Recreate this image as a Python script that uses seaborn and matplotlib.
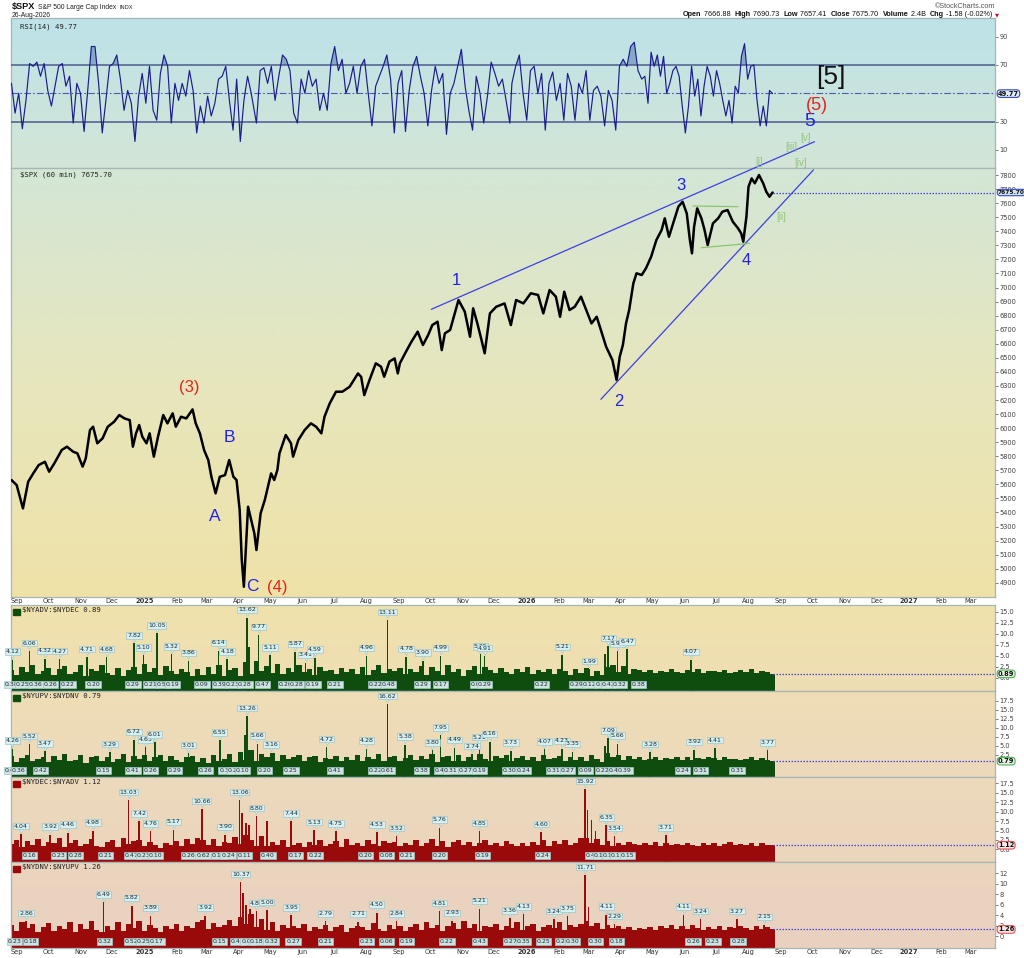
import numpy as np
import pandas as pd
import matplotlib
matplotlib.use("Agg")
import matplotlib.pyplot as plt
import matplotlib.dates as mdates
import matplotlib.colors as mcolors
import matplotlib.transforms as mtransforms
import seaborn as sns

sns.set_theme(style="white")
plt.rcParams['font.family'] = ['DejaVu Sans']

# ======================= DATA =======================
START, END = '2024-08-29', '2026-08-26'

PX_DATES = ['2024-08-29','2024-09-03','2024-09-09','2024-09-14','2024-09-19','2024-09-24','2024-09-30',
 '2024-10-04','2024-10-09','2024-10-16','2024-10-21','2024-10-27','2024-10-31','2024-11-05','2024-11-08',
 '2024-11-12','2024-11-15','2024-11-19','2024-11-24','2024-11-29','2024-12-05','2024-12-10','2024-12-15',
 '2024-12-20','2024-12-23','2024-12-26','2024-12-29','2025-01-01','2025-01-05','2025-01-08','2025-01-12',
 '2025-01-16','2025-01-21','2025-01-25','2025-01-30','2025-02-02','2025-02-07','2025-02-12','2025-02-18',
 '2025-02-21','2025-02-25','2025-03-01','2025-03-05','2025-03-08','2025-03-12','2025-03-16','2025-03-21',
 '2025-03-25','2025-03-29','2025-04-01','2025-04-04','2025-04-06','2025-04-08','2025-04-10','2025-04-12',
 '2025-04-15','2025-04-18','2025-04-20','2025-04-24','2025-04-28','2025-05-01','2025-05-04','2025-05-07',
 '2025-05-10','2025-05-12','2025-05-18','2025-05-23','2025-05-25','2025-05-30','2025-06-05','2025-06-11',
 '2025-06-16','2025-06-21','2025-06-24','2025-06-29','2025-07-05','2025-07-11','2025-07-18','2025-07-26',
 '2025-07-29','2025-08-01','2025-08-06','2025-08-12','2025-08-17','2025-08-20','2025-08-25','2025-08-30',
 '2025-09-02','2025-09-04','2025-09-09','2025-09-15','2025-09-21','2025-09-26','2025-10-01','2025-10-05',
 '2025-10-10','2025-10-14','2025-10-17','2025-10-22','2025-10-26','2025-10-30','2025-11-05','2025-11-10',
 '2025-11-13','2025-11-17','2025-11-21','2025-11-24','2025-11-29','2025-12-05','2025-12-13','2025-12-19',
 '2025-12-24','2025-12-31','2026-01-07','2026-01-14','2026-01-19','2026-01-25','2026-01-31','2026-02-04',
 '2026-02-08','2026-02-13','2026-02-18','2026-02-24','2026-03-01','2026-03-06','2026-03-11','2026-03-15',
 '2026-03-20','2026-03-23','2026-03-26','2026-03-30','2026-04-02','2026-04-05','2026-04-08','2026-04-11',
 '2026-04-15','2026-04-18','2026-04-23','2026-04-27','2026-05-02','2026-05-07','2026-05-12','2026-05-15',
 '2026-05-19','2026-05-23','2026-05-28','2026-06-01','2026-06-05','2026-06-08','2026-06-10','2026-06-12',
 '2026-06-15','2026-06-19','2026-06-22','2026-06-25','2026-06-30','2026-07-05','2026-07-09','2026-07-14',
 '2026-07-19','2026-07-24','2026-07-27','2026-07-29','2026-08-01','2026-08-03','2026-08-06','2026-08-09',
 '2026-08-13','2026-08-17','2026-08-20','2026-08-23','2026-08-26']
PX_VALS = [5631,5595,5429,5619,5680,5737,5761,
 5690,5750,5844,5868,5832,5821,5726,5785,
 5986,6010,5892,5927,6010,6045,6093,6069,
 6057,5868,5963,6022,5939,5892,5963,5797,
 5939,6093,6034,6105,6010,6081,6069,6133,
 6034,5963,5844,5773,5654,5536,5654,5666,
 5773,5654,5631,5417,5062,4872,5156,5441,
 5346,5252,5133,5394,5489,5583,5678,5631,
 5702,5821,5951,5892,5797,5915,5986,6034,
 6010,5963,6081,6176,6259,6259,6294,6389,
 6365,6235,6342,6461,6437,6365,6473,6496,
 6389,6461,6532,6614,6686,6591,6662,6733,
 6757,6555,6674,6698,6804,6911,6828,6650,
 6852,6745,6626,6532,6816,6863,6887,6733,
 6911,6887,6959,6947,6816,6982,6935,6792,
 6970,6840,6863,6935,6840,6745,6792,6698,
 6579,6532,6484,6342,6508,6591,6745,6840,
 7030,7101,7089,7136,7219,7338,7409,7492,
 7361,7456,7575,7610,7527,7338,7243,7432,
 7563,7492,7409,7302,7456,7492,7539,7551,
 7468,7421,7385,7326,7504,7717,7776,7741,
 7800,7741,7681,7646,7675.70]
PX_CLOSE = 7675.70

RSI_SPANS = [('2024-08-29', '2025-04-15'), ('2025-04-20', '2025-12-18'),
             ('2025-12-20', '2026-04-23'), ('2026-04-26', '2026-08-26')]
RSI_A = [57,36,50,25,45,71,69,72,62,71, 52,41,55,69,71,55,62,29,57,50,
         23,52,83,83,57,22,45,69,71,77, 60,38,52,43,16,48,64,43,69,38,
         31,64,77,69,29,57,45,57,48,66, 52,22,41,29,48,34,43,60,62,69,
         45,24,60,16,45,62,50]
RSI_B = [29,66,68,57,69,45,62,77,74,66, 36,29,60,50,66,55,60,38,50,38,
         71,83,66,74,50,57,69,50,69,74, 50,27,55,62,69,77,60,22,57,66,
         23,52,69,76,62,50,27,52,69,57, 64,21,50,57,69,81,55,38,24,62,
         50,29,48,72,64,55,60,45,29]
RSI_C = [57,69,77,50,31,66,69,50,64,24, 57,65,45,57,31,64,55,31,57,50,
         66,31,52,55,48,27,52,45,24,69, 74,69,83,86,66,60]
RSI_D = [62,43,79,69,77,62,76,50,57,66, 69,62,41,22,41,69,48,60,34,55,
         69,62,48,66,57,45,34,45,29,55, 50,76,85,60,69,70,45,27,41,27,
         52,49.77]
RSI_LAST = 49.77

# breadth panels: base values every ~5 days, labelled peaks, labelled lows, extra spikes
B1_BASE = [1.8,0.6,2.4,1.2,2.9,0.9, 1.5,2.2,0.7,1.9,2.6,0.8, 1.3,2.8,0.5,2.0,1.6,3.0,
           1.1,0.6,2.3,0.4,1.8,2.5, 0.9,3.1,1.4,2.2,0.7,2.7, 1.6,0.8,2.1,1.2,0.5,1.9,
           0.6,2.4,0.9,2.8,0.5,1.7, 2.2,0.4,3.5,0.8,3.9,1.5, 2.6,1.1,3.2,0.9,2.3,1.4,
           2.9,1.2,2.0,0.7,2.5,1.6, 1.8,0.8,2.2,1.3,1.9,0.9, 2.4,0.7,1.7,2.8,1.1,2.0,
           1.5,2.3,0.8,1.9,1.2,2.6, 0.7,2.4,1.6,0.6,2.9,1.3, 2.1,0.5,1.8,2.7,0.9,2.4,
           1.7,1.0,2.2,1.4,0.8,2.0, 1.3,2.5,0.9,1.8,1.2,2.1, 0.8,2.0,1.5,0.6,1.9,1.1,
           2.2,0.5,1.6,0.7,2.4,3.0, 1.4,2.6,0.9,2.1,1.7,1.3, 1.8,1.0,1.6,1.2,2.0,1.4,
           1.1,1.7,1.3,1.9,1.0,1.5, 1.6,1.2,1.8,1.0,1.4,1.7, 1.3,1.9,1.1,1.6,1.2,0.89]
B1_PEAK_D = ['2024-08-30','2024-09-15','2024-09-30','2024-10-14','2024-11-09','2024-11-28','2024-12-24',
             '2025-01-02','2025-01-15','2025-01-29','2025-02-14','2025-03-15','2025-03-23','2025-04-11',
             '2025-04-22','2025-05-03','2025-05-27','2025-06-06','2025-06-15','2025-08-03','2025-08-23',
             '2025-09-10','2025-09-26','2025-10-13','2025-11-20','2025-11-24','2026-02-06','2026-03-04',
             '2026-03-22','2026-03-31','2026-04-09','2026-06-09']
B1_PEAK_V = [4.12,6.06,4.32,4.27,4.71,4.68,7.82,5.10,10.05,5.32,3.86,6.14,4.18,13.62,9.77,5.11,5.87,
             3.41,4.59,4.96,13.11,4.78,3.90,4.99,5.35,4.91,5.21,1.99,7.17,5.97,6.47,4.07]
B1_LOW_D = ['2024-08-29','2024-09-09','2024-09-21','2024-10-05','2024-10-22','2024-11-15','2024-12-23',
            '2025-01-09','2025-01-21','2025-01-30','2025-02-27','2025-03-16','2025-03-28','2025-04-09',
            '2025-04-26','2025-05-18','2025-05-28','2025-06-13','2025-07-04','2025-08-12','2025-08-24',
            '2025-09-25','2025-10-13','2025-11-17','2025-11-24','2026-01-17','2026-02-20','2026-03-04',
            '2026-03-16','2026-03-22','2026-04-02','2026-04-20']
B1_LOW_V = [0.38,0.25,0.36,0.26,0.22,0.20,0.29,0.21,0.51,0.19,0.09,0.39,0.23,0.28,0.47,0.20,0.28,
            0.19,0.21,0.22,0.48,0.29,0.17,0.06,0.29,0.22,0.29,0.12,0.06,0.42,0.32,0.38]
B1_EXTRA_D = ['2025-04-13', '2026-03-19']
B1_EXTRA_V = [7.0, 5.5]
B1_LAST = 0.89

B2_BASE = [2.1,0.5,1.7,2.6,0.8,1.4, 1.9,0.6,2.3,1.1,2.8,0.7, 1.2,2.5,0.4,1.8,2.2,0.9,
           2.0,0.5,1.5,2.7,0.6,2.2, 1.3,2.6,0.7,1.9,2.4,0.8, 2.1,1.0,0.6,1.8,2.3,0.5,
           1.7,0.4,2.5,0.9,1.4,2.9, 0.5,3.4,1.2,4.0,0.7,2.8, 1.9,3.1,0.8,2.4,1.5,2.0,
           2.6,0.9,1.8,2.3,0.6,1.7, 1.4,2.2,0.8,1.9,1.2,2.5, 0.7,2.0,1.5,2.9,0.9,1.8,
           2.3,0.8,1.6,2.4,1.0,2.1, 1.3,2.7,0.6,1.9,2.2,0.9, 2.5,0.7,2.0,1.2,2.8,1.5,
           0.8,2.1,1.6,2.4,0.9,1.7, 2.2,1.1,1.9,0.7,2.5,1.4, 1.6,2.3,0.8,1.8,1.2,2.0,
           0.7,2.5,1.3,0.6,3.1,1.9, 2.4,1.0,2.1,1.5,1.8,1.2, 1.5,2.0,1.1,1.7,1.3,1.9,
           1.2,1.8,1.0,1.6,1.4,2.0, 1.7,1.1,1.9,1.3,1.5,1.0, 1.4,2.0,1.2,1.7,1.1,0.79]
B2_PEAK_D = ['2024-08-30','2024-09-15','2024-09-30','2024-12-01','2024-12-24','2025-01-04','2025-01-13',
             '2025-02-14','2025-03-16','2025-04-11','2025-04-21','2025-05-04','2025-06-26','2025-08-03',
             '2025-08-23','2025-09-09','2025-10-05','2025-10-13','2025-10-26','2025-11-12','2025-11-19',
             '2025-11-29','2025-12-19','2026-01-20','2026-02-06','2026-02-16','2026-03-22','2026-03-31',
             '2026-05-01','2026-06-12','2026-07-02','2026-08-21']
B2_PEAK_V = [4.26,5.52,3.47,3.29,6.72,4.63,6.01,3.01,6.55,13.26,5.66,3.16,4.72,4.28,16.62,5.38,3.80,
             7.95,4.49,2.74,5.21,6.16,3.73,4.07,4.23,3.35,7.09,5.66,3.28,3.92,4.41,3.77]
B2_LOW_D = ['2024-08-29','2024-09-05','2024-09-26','2024-11-25','2024-12-23','2025-01-09','2025-02-01',
            '2025-03-02','2025-03-22','2025-03-30','2025-04-07','2025-04-28','2025-05-23','2025-07-04',
            '2025-08-12','2025-08-23','2025-09-25','2025-10-14','2025-10-22','2025-11-06','2025-11-19',
            '2025-12-18','2025-12-31','2026-01-29','2026-02-11','2026-02-28','2026-03-17','2026-03-29',
            '2026-04-07','2026-06-01','2026-06-18','2026-07-23']
B2_LOW_V = [0.43,0.36,0.42,0.15,0.41,0.26,0.29,0.26,0.33,0.20,0.10,0.20,0.25,0.41,0.22,0.61,0.38,
            0.49,0.31,0.27,0.19,0.30,0.24,0.31,0.27,0.09,0.22,0.44,0.39,0.24,0.31,0.31]
B2_EXTRA_D = ['2025-04-09', '2026-03-19']
B2_EXTRA_V = [8.0, 5.0]
B2_LAST = 0.79

B3_BASE = [1.4,2.6,0.7,2.2,1.1,2.8, 0.9,2.0,1.6,2.9,0.6,1.8, 2.4,0.8,1.5,2.7,1.0,0.6,
           1.9,2.5,0.7,2.9,1.4,2.2, 2.6,0.9,2.0,1.2,0.5,1.7, 1.1,2.3,0.8,2.7,1.5,2.9,
           2.5,1.2,2.8,0.9,2.1,1.6, 3.2,1.4,3.8,2.6,1.0,3.5, 0.8,1.9,1.1,2.4,0.7,1.3,
           1.8,0.6,2.1,1.2,2.6,0.9, 1.5,2.3,0.7,2.8,1.1,1.7, 1.0,2.5,1.4,0.8,2.2,1.6,
           2.1,0.9,1.7,1.2,2.4,0.8, 1.6,2.8,1.0,2.2,0.7,1.9, 2.6,1.2,2.0,0.8,1.7,2.5,
           1.1,1.8,0.9,2.3,1.4,1.0, 1.7,0.8,2.1,1.3,2.4,1.0, 2.2,1.4,2.6,1.1,1.8,2.9,
           3.0,1.6,2.7,1.2,2.3,0.9, 1.8,1.2,2.0,1.5,1.1,1.7, 1.3,1.9,1.0,1.6,1.2,1.5,
           1.1,1.7,1.3,1.0,1.8,1.2, 1.6,1.0,1.4,1.9,1.1,1.5, 1.2,1.7,1.0,1.8,1.3,1.12]
B3_PEAK_D = ['2024-09-07','2024-10-05','2024-10-22','2024-11-15','2024-12-19','2024-12-29','2025-01-09',
             '2025-01-31','2025-02-27','2025-03-21','2025-04-04','2025-04-20','2025-05-23','2025-06-14',
             '2025-07-05','2025-08-13','2025-09-01','2025-10-12','2025-11-19','2026-01-17','2026-02-28',
             '2026-03-20','2026-03-28','2026-05-16']
B3_PEAK_V = [4.04,3.92,4.46,4.98,13.03,7.42,4.76,5.17,10.66,3.90,13.06,8.80,7.44,5.13,4.75,4.53,3.52,
             5.76,4.85,4.60,15.92,6.35,3.54,3.71]
B3_LOW_D = ['2024-09-15','2024-10-13','2024-10-29','2024-11-27','2024-12-22','2025-01-02','2025-01-14',
            '2025-02-14','2025-02-28','2025-03-15','2025-03-24','2025-04-09','2025-05-01','2025-05-27',
            '2025-06-15','2025-08-02','2025-08-22','2025-09-10','2025-10-12','2025-11-22','2026-01-18',
            '2026-03-07','2026-03-15','2026-03-23','2026-03-31','2026-04-09']
B3_LOW_V = [0.16,0.23,0.28,0.21,0.47,0.23,0.10,0.26,0.62,0.10,0.24,0.11,0.40,0.17,0.22,0.20,0.08,
            0.21,0.20,0.19,0.24,0.46,0.18,0.10,0.17,0.15]
B3_EXTRA_D = ['2025-04-06','2025-04-10','2025-04-13','2025-04-30','2026-03-02','2026-03-06','2026-03-10']
B3_EXTRA_V = [9.5, 7.0, 6.5, 7.6, 10.5, 7.8, 5.0]
B3_LAST = 1.12

B4_BASE = [2.2,1.0,2.7,1.5,2.4,0.8, 1.7,2.5,0.9,2.0,1.3,2.6, 0.8,2.3,1.4,2.9,1.1,0.7,
           2.0,1.2,2.6,0.9,2.3,1.6, 2.8,1.0,2.2,1.5,0.7,1.9, 1.3,2.4,0.9,2.0,1.6,2.7,
           3.0,1.4,2.5,1.8,2.2,3.1, 2.0,3.6,2.4,4.2,1.7,3.3, 1.2,2.6,1.0,2.2,1.5,2.0,
           1.6,2.3,0.9,1.8,1.3,2.1, 1.0,1.7,2.2,0.8,1.5,2.0, 1.8,1.1,2.5,1.3,0.9,2.2,
           1.4,2.0,1.0,1.7,2.3,1.2, 2.7,1.5,2.2,0.9,1.9,2.5, 1.3,2.8,1.6,2.4,1.0,2.0,
           1.7,2.3,1.1,2.0,1.5,2.6, 1.2,1.9,2.4,1.0,1.8,2.2, 1.5,2.6,1.1,2.1,1.7,2.4,
           2.8,1.9,2.5,1.3,2.2,1.6, 2.0,1.4,1.8,1.1,1.6,1.3, 1.7,1.2,1.9,1.5,2.1,1.4,
           1.9,1.3,2.2,1.6,1.2,1.8, 1.4,2.0,1.1,1.7,1.5,1.9, 1.6,1.2,2.0,1.4,1.8,1.26]
B4_PEAK_D = ['2024-09-12','2024-11-25','2024-12-22','2025-01-09','2025-03-02','2025-04-05','2025-04-20',
             '2025-04-30','2025-05-23','2025-06-25','2025-07-26','2025-08-13','2025-09-01','2025-10-12',
             '2025-10-24','2025-11-19','2025-12-18','2025-12-31','2026-01-29','2026-02-11','2026-02-28',
             '2026-03-20','2026-03-28','2026-06-02','2026-06-18','2026-07-23','2026-08-18']
B4_PEAK_V = [2.86,6.49,5.82,3.89,3.92,10.37,4.80,5.00,3.95,2.79,2.71,4.50,2.84,4.81,2.93,5.21,3.36,
             4.13,3.24,3.75,11.71,4.11,2.29,4.11,3.24,3.27,2.15]
B4_LOW_D = ['2024-09-01','2024-09-16','2024-11-26','2024-12-22','2025-01-02','2025-01-15','2025-03-16',
            '2025-04-02','2025-04-12','2025-04-20','2025-05-04','2025-05-25','2025-06-25','2025-08-03',
            '2025-08-22','2025-09-10','2025-10-19','2025-11-19','2025-12-19','2025-12-31','2026-01-19',
            '2026-02-06','2026-02-16','2026-03-10','2026-03-30','2026-06-11','2026-06-30','2026-07-24']
B4_LOW_V = [0.23,0.18,0.32,0.52,0.25,0.17,0.15,0.41,0.08,0.18,0.32,0.27,0.21,0.23,0.06,0.19,0.22,
            0.43,0.27,0.35,0.25,0.20,0.30,0.30,0.18,0.26,0.23,0.28]
B4_EXTRA_D = ['2025-04-07','2025-04-10','2025-04-14','2026-03-03']
B4_EXTRA_V = [8.3, 6.0, 5.2, 5.5]
B4_LAST = 1.26

# Elliott-wave annotations (date, price) and trendlines
WAVE_TXT = ['(3)', 'B', 'A', 'C', '(4)', '1', '2', '3', '4', '5', '(5)', '[5]']
WAVE_D = ['2025-02-15','2025-03-25','2025-03-11','2025-04-16','2025-05-10','2025-10-28','2026-04-01',
          '2026-05-30','2026-08-01','2026-09-30','2026-10-07','2026-10-21']
WAVE_P = [6290, 5932, 5375, 4872, 4868, 7048, 6188, 7729, 7195, 8179, 8298, 8499]
WAVE_C = ['#e8231f', '#2222e6', '#2222e6', '#2222e6', '#e8231f', '#2222e6', '#2222e6', '#2222e6',
          '#2222e6', '#2222e6', '#e8231f', '#111111']
WAVE_FS = [12, 12.5, 12.5, 12.5, 12, 12, 12, 12, 12, 14, 13, 19]
SUB_TXT = ['[i]', '[ii]', '[iii]', '[iv]', '[v]']
SUB_D = ['2026-08-13', '2026-09-03', '2026-09-13', '2026-09-22', '2026-09-26']
SUB_P = [7895, 7503, 7999, 7883, 8065]
WEDGE_UP_D, WEDGE_UP_P = ['2025-10-04', '2026-10-05'], [6845, 8037]
WEDGE_LO_D, WEDGE_LO_P = ['2026-03-15', '2026-10-04'], [6205, 7836]
TRI_UP_D, TRI_UP_P = ['2026-06-11', '2026-07-24'], [7580, 7575]
TRI_LO_D, TRI_LO_P = ['2026-06-19', '2026-08-04'], [7283, 7314]

PRICE_TICKS = list(range(4900, 7801, 100))
RSI_TICKS = [10, 30, 70, 90]
B_TICKS = [[0, 2.5, 5, 7.5, 10, 12.5, 15], [2.5, 5, 7.5, 10, 12.5, 15, 17.5],
           [0, 2.5, 5, 7.5, 10, 12.5, 15, 17.5], [0, 2, 4, 6, 8, 10, 12]]
B_YLIM = [(-3.0, 16.5), (-3.6, 20.2), (-3.3, 19.1), (-2.3, 14.2)]
B_TITLES = ['$NYADV:$NYDEC 0.89', '$NYUPV:$NYDNV 0.79', '$NYDEC:$NYADV 1.12', '$NYDNV:$NYUPV 1.26']

# ======================= HELPERS =======================
W, H = 1024, 958
fig = plt.figure(figsize=(W / 100, H / 100), dpi=100)
fig.patch.set_facecolor('white')


def dn(s):
    t = pd.to_datetime(s)
    return mdates.date2num(t.to_pydatetime())


def ax_px(l, t, r, b):
    return fig.add_axes([l / W, 1 - b / H, (r - l) / W, (b - t) / H])


XL = (dn('2024-08-28 14:00'), dn('2027-03-26 10:00'))
GY = [18, 168, 380, 597, 605, 760, 948]
GC = ['#bde2e8', '#d3e6d6', '#e7e6bd', '#efe2a8', '#f0e2ac', '#eddabb', '#e9d1c0']
GC_RGB = np.array([mcolors.to_rgb(c) for c in GC])


def gradient(ax, top, bottom):
    ys = np.linspace(top, bottom, 256)
    img = np.stack([np.interp(ys, GY, GC_RGB[:, i]) for i in range(3)], axis=1)[:, None, :]
    ax.imshow(img, extent=[0, 1, 0, 1], transform=ax.transAxes, aspect='auto',
              zorder=-10, interpolation='bilinear')


def style(ax):
    for s in ax.spines.values():
        s.set_color('#a6b6b4')
        s.set_linewidth(0.9)
    ax.yaxis.tick_right()
    ax.tick_params(axis='y', which='both', right=True, left=False, labelright=True, labelleft=False,
                   labelsize=4.8, length=2.2, width=0.5, colors='#404040', pad=1.2)
    ax.tick_params(axis='x', bottom=False, top=False, labelbottom=False, length=0)
    ax.grid(False)


def month_ticks(ax):
    ms = pd.date_range('2024-09-01', '2027-03-01', freq='MS')
    pos = dn(ms + pd.Timedelta(days=2))
    labs = [str(m.year) if m.month == 1 else m.strftime('%b') for m in ms]
    ax.set_xticks(pos)
    ax.set_xticklabels(labs)
    ax.tick_params(axis='x', bottom=False, labelbottom=True, labelsize=4.8, colors='#303030',
                   pad=0.4, length=0)
    for t, m in zip(ax.get_xticklabels(), ms):
        if m.month == 1:
            t.set_fontweight('bold')


def value_box(ax, y, txt, ec, fc, fs=4.8):
    tr = mtransforms.blended_transform_factory(ax.transAxes, ax.transData)
    ax.text(1.003, y, txt, transform=tr, ha='left', va='center', fontsize=fs, fontweight='bold',
            color='#101010', zorder=20, clip_on=False,
            bbox=dict(boxstyle='round,pad=0.12,rounding_size=0.5', fc=fc, ec=ec, lw=0.8))


BOX_FC, BOX_EC = '#d6eff0', '#9fc6c6'


def breadth(ax, base, pk_d, pk_v, lo_d, lo_v, ex_d, ex_v, last, color, ylim, ec, fc):
    y0 = ylim[0]
    bx = np.linspace(dn(START), dn(END), len(base))
    step = bx[1] - bx[0]
    base = np.array(base)
    ax.bar(bx, base - y0, bottom=y0, width=step * 1.02, color=color, linewidth=0, zorder=2)
    ex_x, ex_v = dn(ex_d), np.array(ex_v)
    ax.bar(ex_x, ex_v - y0, bottom=y0, width=1.4, color=color, linewidth=0, zorder=3)
    px, pv = dn(pk_d), np.array(pk_v)
    ax.bar(px, pv - y0, bottom=y0, width=1.4, color=color, linewidth=0, zorder=3)
    off = mtransforms.offset_copy(ax.transData, fig=fig, x=0, y=2.6, units='points')
    for x, v in zip(px, pv):
        ax.plot([x], [v], marker='v', ms=3.0, mfc=BOX_FC, mec=BOX_EC, mew=0.4, transform=off,
                zorder=6, clip_on=False)
        ax.annotate(f'{v:.2f}', (x, v), xytext=(0, 3.9), textcoords='offset points', ha='center',
                    va='bottom', fontsize=4.5, color='#1a2a34', zorder=7, annotation_clip=False,
                    bbox=dict(boxstyle='square,pad=0.12', fc=BOX_FC, ec=BOX_EC, lw=0.5))
    tr = mtransforms.blended_transform_factory(ax.transData, ax.transAxes)
    for x, v in zip(dn(lo_d), lo_v):
        ax.text(x, 0.075, f'{v:.2f}', transform=tr, ha='center', va='center', fontsize=4.5,
                color='#1a2a34', zorder=7,
                bbox=dict(boxstyle='square,pad=0.12', fc='#cfe3e3', ec=BOX_EC, lw=0.5))
    ax.plot([dn(END), XL[1]], [last, last], ls=(0, (1.2, 1.2)), color='#4a44e6', lw=0.9, zorder=5)
    value_box(ax, last, f'{last:.2f}', ec, fc)
    ax.set_xlim(*XL)
    ax.set_ylim(*ylim)


# ======================= RSI PANEL =======================
ax_r = ax_px(11, 18, 995, 168)
ax_r.set_zorder(1)
gradient(ax_r, 18, 168)
style(ax_r)
rsi_x = np.concatenate([np.linspace(dn(a), dn(b), len(v))
                        for (a, b), v in zip(RSI_SPANS, [RSI_A, RSI_B, RSI_C, RSI_D])])
rsi_y = np.concatenate([RSI_A, RSI_B, RSI_C, RSI_D]).astype(float)
ax_r.fill_between(rsi_x, 70, rsi_y, where=rsi_y > 70, interpolate=True, color='#6f8fbd', alpha=0.7,
                  lw=0, zorder=2)
ax_r.fill_between(rsi_x, 30, rsi_y, where=rsi_y < 30, interpolate=True, color='#6f8fbd', alpha=0.7,
                  lw=0, zorder=2)
sns.lineplot(x=rsi_x, y=rsi_y, ax=ax_r, color='#1c1c8c', lw=0.85, estimator=None, sort=False, zorder=4)
ax_r.axhline(70, color='#4c5a8c', lw=1.1, zorder=3)
ax_r.axhline(30, color='#4c5a8c', lw=1.1, zorder=3)
ax_r.axhline(50, color='#4c5aa8', lw=0.8, dashes=(6, 2, 1.5, 2), zorder=3)
ax_r.set_yticks(RSI_TICKS)
ax_r.set_yticklabels([str(t) for t in RSI_TICKS])
ax_r.set_xlim(*XL)
ax_r.set_ylim(-2.7, 103.1)
ax_r.set_xlabel('')
ax_r.set_ylabel('')
value_box(ax_r, RSI_LAST, f'{RSI_LAST:.2f}', '#3048c0', '#dcecf4')
ax_r.text(0.009, 0.965, f'RSI(14) {RSI_LAST:.2f}', transform=ax_r.transAxes, ha='left', va='top',
          fontsize=5.2, family='DejaVu Sans Mono', color='#202020', parse_math=False)

# ======================= PRICE PANEL =======================
ax_p = ax_px(11, 168, 995, 597)
ax_p.set_zorder(5)
gradient(ax_p, 168, 597)
style(ax_p)
sns.lineplot(x=dn(PX_DATES), y=PX_VALS, ax=ax_p, color='black', lw=1.8, estimator=None, sort=False,
             zorder=5)
ax_p.plot([dn(END), XL[1]], [PX_CLOSE, PX_CLOSE], ls=(0, (1.2, 1.2)), color='#4a44e6', lw=0.9, zorder=4)
ax_p.set_yticks(PRICE_TICKS)
ax_p.set_yticklabels([str(t) for t in PRICE_TICKS])
for d, p in [(WEDGE_UP_D, WEDGE_UP_P), (WEDGE_LO_D, WEDGE_LO_P)]:
    ax_p.plot(dn(d), p, color='#3e3ee6', lw=0.9, zorder=6, clip_on=False)
for d, p in [(TRI_UP_D, TRI_UP_P), (TRI_LO_D, TRI_LO_P)]:
    ax_p.plot(dn(d), p, color='#8cc46e', lw=0.9, zorder=6)
for t, d, p, c, fs in zip(WAVE_TXT, WAVE_D, WAVE_P, WAVE_C, WAVE_FS):
    ax_p.text(dn(d), p, t, color=c, fontsize=fs, ha='center', va='center', zorder=8,
              family='Liberation Sans', clip_on=False)
for t, d, p in zip(SUB_TXT, SUB_D, SUB_P):
    ax_p.text(dn(d), p, t, color='#93c47d', fontsize=7, ha='center', va='center', zorder=8,
              family='Liberation Sans', clip_on=False)
ax_p.set_xlim(*XL)
ax_p.set_ylim(4799, 7850)
ax_p.set_xlabel('')
ax_p.set_ylabel('')
month_ticks(ax_p)
value_box(ax_p, PX_CLOSE, f'{PX_CLOSE:.2f}', '#3048c0', '#cfe6f2', fs=4.2)
ax_p.text(0.009, 0.992, f'$SPX (60 min) {PX_CLOSE:.2f}', transform=ax_p.transAxes, ha='left', va='top',
          fontsize=5.2, family='DejaVu Sans Mono', color='#202020', zorder=9, parse_math=False)

# ======================= BREADTH PANELS =======================
rects = [(605, 691), (691, 777), (777, 862), (862, 948)]
datasets = [
    (B1_BASE, B1_PEAK_D, B1_PEAK_V, B1_LOW_D, B1_LOW_V, B1_EXTRA_D, B1_EXTRA_V, B1_LAST, '#0f4d0f', '#4caf50', '#e6f6e6'),
    (B2_BASE, B2_PEAK_D, B2_PEAK_V, B2_LOW_D, B2_LOW_V, B2_EXTRA_D, B2_EXTRA_V, B2_LAST, '#0f4d0f', '#4caf50', '#e6f6e6'),
    (B3_BASE, B3_PEAK_D, B3_PEAK_V, B3_LOW_D, B3_LOW_V, B3_EXTRA_D, B3_EXTRA_V, B3_LAST, '#9a0a0a', '#e05050', '#fbe8e8'),
    (B4_BASE, B4_PEAK_D, B4_PEAK_V, B4_LOW_D, B4_LOW_V, B4_EXTRA_D, B4_EXTRA_V, B4_LAST, '#9a0a0a', '#e05050', '#fbe8e8'),
]
baxes = []
for i, ((t, b), ds, yl, ticks, title) in enumerate(zip(rects, datasets, B_YLIM, B_TICKS, B_TITLES)):
    ax = ax_px(11, t, 995, b)
    gradient(ax, t, b)
    style(ax)
    base, pkd, pkv, lod, lov, exd, exv, last, col, ec, fc = ds
    breadth(ax, base, pkd, pkv, lod, lov, exd, exv, last, col, yl, ec, fc)
    ax.set_yticks(ticks)
    if i == 3:
        ax.set_yticklabels([f'{v:d}' for v in ticks])
    else:
        ax.set_yticklabels([f'{v:.1f}' for v in ticks])
    ax.text(0.011, 0.975, title, transform=ax.transAxes, ha='left', va='top', fontsize=5.2,
            family='DejaVu Sans Mono', color='#202020', zorder=9, parse_math=False)
    ax.add_patch(plt.Rectangle((0.002, 0.88), 0.007, 0.075, transform=ax.transAxes, color=col,
                               zorder=9, clip_on=False))
    baxes.append(ax)
month_ticks(baxes[-1])

# ======================= HEADER =======================
def ftext(x, y, s, **kw):
    return fig.text(x / W, 1 - y / H, s, parse_math=False, **kw)

renderer = fig.canvas.get_renderer()
t0 = ftext(12, 7, '$SPX', fontsize=6.6, fontweight='bold', family='Liberation Sans', va='center',
           color='#111')
x1 = 12 + t0.get_window_extent(renderer).width + 3
t1 = ftext(x1, 7.5, 'S&P 500 Large Cap Index', fontsize=4.9, family='Liberation Sans', va='center',
           color='#222')
x2 = x1 + t1.get_window_extent(renderer).width + 3
ftext(x2, 7.8, 'INDX', fontsize=4.1, family='Liberation Sans', va='center', color='#222')
ftext(12, 15.5, '26-Aug-2026', fontsize=4.9, family='Liberation Sans', va='center', color='#222')
ftext(995, 6, '\u00a9StockCharts.com', fontsize=5.2, family='Liberation Sans', va='center', ha='right',
      color='#555')

pieces = [('Open', 'bold'), (' 7666.88 ', 'normal'), ('High', 'bold'), (' 7690.73 ', 'normal'),
          ('Low', 'bold'), (' 7657.41 ', 'normal'), ('Close', 'bold'), (' 7675.70 ', 'normal'),
          ('Volume', 'bold'), (' 2.4B ', 'normal'), ('Chg', 'bold'), (' -1.58 (-0.02%) ', 'normal')]
xcur = 683.0
for s, wgt in pieces:
    t = ftext(xcur, 14.7, s, fontsize=5.2, fontweight=wgt, family='Liberation Sans', va='center',
              color='#111')
    xcur += t.get_window_extent(renderer).width + (2.5 if wgt == 'normal' else 0)
ftext(xcur - 2, 14.7, '\u25bc', fontsize=3.8, family='DejaVu Sans', va='center', color='#c0102a')

fig.savefig('out.png', dpi=100, facecolor='white')
